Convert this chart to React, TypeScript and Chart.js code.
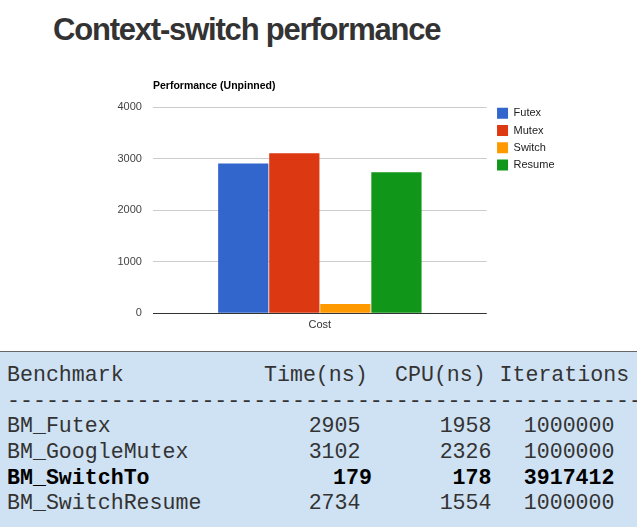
import React, { useEffect, useRef } from "react";
import { Chart, registerables } from "chart.js";

Chart.register(...registerables);

// ---- chart data ----
const slideTitle = "Context-switch performance";
const chartTitle = "Performance (Unpinned)";
const categories = ["Cost"];
const seriesNames = ["Futex", "Mutex", "Switch", "Resume"];
const seriesValues = [2905, 3102, 179, 2734];
const seriesColors = ["#3366cc", "#dc3912", "#ff9900", "#109618"];
const yMin = 0;
const yMax = 4000;
const yStep = 1000;

// ---- table data ----
const tableHeader = ["Benchmark", "Time(ns)", "CPU(ns)", "Iterations"];
const benchNames = ["BM_Futex", "BM_GoogleMutex", "BM_SwitchTo", "BM_SwitchResume"];
const timeNs = [2905, 3102, 179, 2734];
const cpuNs = [1958, 2326, 178, 1554];
const iterations = [1000000, 1000000, 3917412, 1000000];
const highlightRow = 2;

const W = 637;
const H = 527;
const CHART_H = 345;
const TABLE_TOP = 351;
const LINE_H = 25.7;

const decorPlugin = {
  id: "slideDecor",
  afterLayout(chart: any) {
    const lg = chart.legend;
    if (lg) {
      lg.left += 4;
      lg.right += 4;
      lg.top -= 5.6;
      lg.bottom -= 5.6;
    }
  },
  afterDraw(chart: any) {
    const { ctx, chartArea } = chart;
    ctx.save();
    ctx.font = "bold 10.5px 'Liberation Sans', Arial, sans-serif";
    ctx.fillStyle = "#000000";
    ctx.textAlign = "left";
    ctx.textBaseline = "alphabetic";
    ctx.fillText(chartTitle, chartArea.left, chartArea.top - 18.5);
    ctx.restore();
  },
};

function ChartCanvas() {
  const ref = useRef<HTMLCanvasElement | null>(null);
  useEffect(() => {
    if (!ref.current) return;
    const chart = new Chart(ref.current, {
      type: "bar",
      data: {
        labels: categories,
        datasets: seriesNames.map((name, i) => ({
          label: name,
          data: [seriesValues[i]],
          backgroundColor: seriesColors[i],
          borderWidth: 0,
          categoryPercentage: 0.612,
          barPercentage: 0.984,
        })),
      },
      options: {
        animation: false,
        responsive: false,
        devicePixelRatio: 1,
        layout: { padding: { top: 107, left: 106.5, right: 76.5, bottom: 7.5 } },
        plugins: {
          title: { display: false },
          tooltip: { enabled: false },
          legend: {
            display: true,
            position: "right",
            align: "start",
            labels: {
              boxWidth: 11,
              boxHeight: 11,
              padding: 6.3,
              color: "#222222",
              font: { family: "'Liberation Sans', Arial, sans-serif", size: 11 },
            },
          },
        },
        scales: {
          x: {
            grid: { display: false, drawTicks: false },
            border: { display: false },
            ticks: {
              color: "#333333",
              padding: 5.5,
              font: { family: "'Liberation Sans', Arial, sans-serif", size: 11 },
            },
          },
          y: {
            min: yMin,
            max: yMax,
            border: { display: false },
            grid: {
              drawTicks: false,
              color: (c: any) => (c.tick && c.tick.value === 0 ? "#333333" : "#cccccc"),
              lineWidth: 1,
            },
            ticks: {
              stepSize: yStep,
              padding: 11,
              color: "#444444",
              callback: (v: any) => String(v),
              font: { family: "'Liberation Sans', Arial, sans-serif", size: 11 },
            },
          },
        },
      },
      plugins: [decorPlugin],
    } as any);
    return () => chart.destroy();
  }, []);
  return (
    <canvas
      ref={ref}
      width={W}
      height={CHART_H}
      style={{ position: "absolute", left: 0, top: 0, width: W, height: CHART_H, display: "block" }}
    />
  );
}

// column layout (pixels)
const NAME_LEFT = 7;
const HEAD_LEFTS = [7, 264, 395, 499.5];
const TIME_RIGHT = 360.5;
const TIME_RIGHT_HL = 372;
const CPU_RIGHT = 491.5;
const ITER_RIGHT = 614.5;

function Cell(props: { text: string; left?: number; right?: number }) {
  const { text, left, right } = props;
  if (right !== undefined) {
    return (
      <span style={{ position: "absolute", left: 0, width: right, textAlign: "right", top: 0 }}>{text}</span>
    );
  }
  return <span style={{ position: "absolute", left: left, top: 0 }}>{text}</span>;
}

export default function App() {
  const lineStyle = (bold: boolean): React.CSSProperties => ({
    position: "relative",
    height: LINE_H,
    whiteSpace: "pre",
    fontWeight: bold ? "bold" : "normal",
    color: bold ? "#000000" : "#333333",
  });
  return (
    <div
      style={{
        position: "absolute",
        left: 0,
        top: 0,
        width: W,
        height: H,
        background: "#ffffff",
        overflow: "hidden",
      }}
    >
      <div
        style={{
          position: "absolute",
          left: 53,
          top: 14,
          fontFamily: "'Liberation Sans', Arial, sans-serif",
          fontWeight: "bold",
          fontSize: 31,
          lineHeight: "31px",
          letterSpacing: "-1.2px",
          color: "#333333",
          whiteSpace: "nowrap",
        }}
      >
        {slideTitle}
      </div>
      <ChartCanvas />
      <div
        style={{
          position: "absolute",
          left: 0,
          top: TABLE_TOP,
          width: W,
          height: H - TABLE_TOP,
          boxSizing: "border-box",
          borderTop: "1px solid #666666",
          background: "#cfe2f3",
          overflow: "hidden",
          paddingTop: 11,
          fontFamily: "'Liberation Mono', 'Courier New', monospace",
          fontSize: "21.6px",
          lineHeight: LINE_H + "px",
        }}
      >
        <div style={lineStyle(false)}>
          {tableHeader.map((h, i) => (
            <Cell key={i} text={h} left={HEAD_LEFTS[i]} />
          ))}
        </div>
        <div style={lineStyle(false)}>
          <Cell text={"-".repeat(60)} left={NAME_LEFT} />
        </div>
        {benchNames.map((name, i) => {
          const hl = i === highlightRow;
          return (
            <div key={name} style={lineStyle(hl)}>
              <Cell text={name} left={NAME_LEFT} />
              <Cell text={String(timeNs[i])} right={hl ? TIME_RIGHT_HL : TIME_RIGHT} />
              <Cell text={String(cpuNs[i])} right={CPU_RIGHT} />
              <Cell text={String(iterations[i])} right={ITER_RIGHT} />
            </div>
          );
        })}
      </div>
    </div>
  );
}
